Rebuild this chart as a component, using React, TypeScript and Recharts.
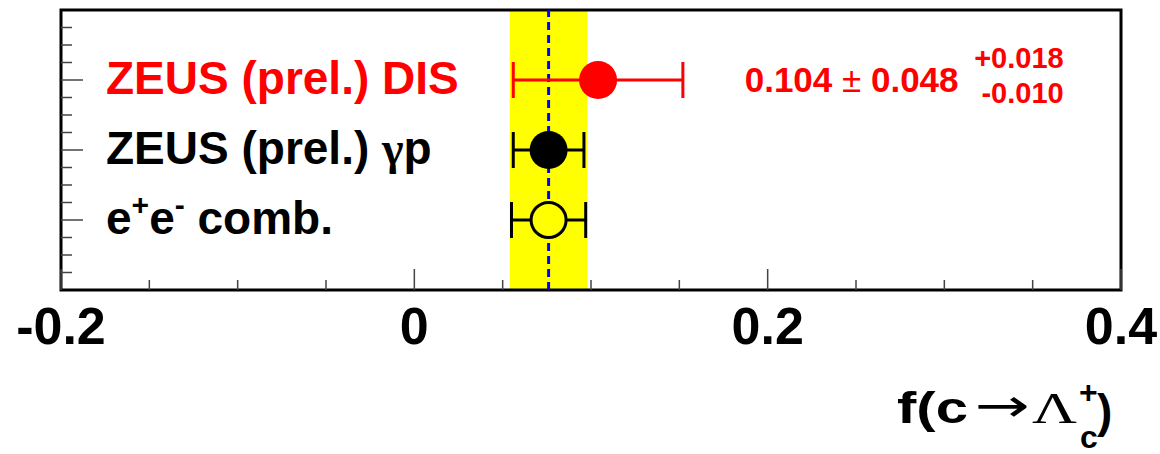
import React from 'react';
import {
  ScatterChart,
  Scatter,
  XAxis,
  YAxis,
  ErrorBar,
  ReferenceArea,
  ReferenceLine,
  ReferenceDot,
} from 'recharts';

// measurements, listed from the bottom row to the top row
const rowLabels = ['e^+e^- comb.', 'ZEUS (prel.) γp', 'ZEUS (prel.) DIS'];
const rowPositions = [1, 2, 3];
const centralValues = [0.076, 0.076, 0.104];
const statErrors = [0.021, 0.02, 0.048];
const rowColors = ['#000000', '#000000', '#ff0000'];
const markerFilled = [false, true, true];

// average band
const bandLow = 0.054;
const bandHigh = 0.098;
const bandCentre = 0.076;

// DIS result text
const disValue = '0.104';
const disStat = '0.048';
const disSystUp = '+0.018';
const disSystDown = '-0.010';
const disTextX = 0.187;

const xTicks = [-0.2, -0.15, -0.1, -0.05, 0, 0.05, 0.1, 0.15, 0.2, 0.25, 0.3, 0.35, 0.4];
const xTickLabels = ['-0.2', '', '', '', '0', '', '', '', '0.2', '', '', '', '0.4'];
const yTicks = [0.25, 0.5, 0.75, 1, 1.25, 1.5, 1.75, 2, 2.25, 2.5, 2.75, 3, 3.25, 3.5, 3.75];

const FONT = '"Liberation Sans", Arial, Helvetica, sans-serif';
const SERIF = '"Liberation Serif", "Times New Roman", serif';

// 'e^+' -> raised '+', 'γ' -> symbol font
const renderRowLabel = (label: string) => {
  const parts = label.split(/(\^.|γ)/).filter(Boolean);
  let raised = false;
  return parts.map((part, i) => {
    if (part.startsWith('^')) {
      raised = true;
      return (
        <tspan key={i} fontSize={30} dy={-19}>
          {part[1]}
        </tspan>
      );
    }
    const dy = raised ? 19 : 0;
    raised = false;
    if (part === 'γ') {
      return (
        <tspan key={i} dy={dy} fontFamily={SERIF}>
          {part}
        </tspan>
      );
    }
    return (
      <tspan key={i} dy={dy}>
        {part}
      </tspan>
    );
  });
};

const XTick = (props: any) => {
  const { x, y, index } = props;
  const label = xTickLabels[index];
  const major = label !== '';
  return (
    <g>
      <line x1={x} x2={x} y1={y} y2={y - (major ? 21 : 10)} stroke="#444" strokeWidth={1.5} />
      {major && (
        <text x={x} y={y + 54} textAnchor="middle" fontFamily={FONT} fontWeight="bold" fontSize={52} fill="#000">
          {label}
        </text>
      )}
    </g>
  );
};

const YTick = (props: any) => {
  const { x, y, payload } = props;
  const v = payload.value;
  const major = Number.isInteger(v);
  const rowIdx = rowPositions.indexOf(v);
  return (
    <g>
      <line x1={x} x2={x + (major ? 22 : 11)} y1={y} y2={y} stroke="#444" strokeWidth={1.5} />
      {rowIdx >= 0 && (
        <text x={x + 45} y={y + 14} fontFamily={FONT} fontWeight="bold" fontSize={46} fill={rowColors[rowIdx]}>
          {renderRowLabel(rowLabels[rowIdx])}
        </text>
      )}
    </g>
  );
};

const Marker = (props: any) => {
  const { cx, cy, color, filled } = props;
  if (filled) return <circle cx={cx} cy={cy} r={19} fill={color} />;
  return <circle cx={cx} cy={cy} r={17.5} fill="#ffff00" stroke={color} strokeWidth={3} />;
};

const DisText = (props: any) => {
  const { x, y } = props.viewBox;
  return (
    <g fill="#ff0000" fontFamily={FONT} fontWeight="bold">
      <text x={x} y={y + 12} fontSize={35}>
        {disValue} <tspan fontWeight="normal">±</tspan> {disStat}
      </text>
      <text x={x + 319} y={y - 12} fontSize={29} textAnchor="end">
        {disSystUp}
      </text>
      <text x={x + 319} y={y + 23} fontSize={29} textAnchor="end">
        {disSystDown}
      </text>
    </g>
  );
};

const AxisTitle = (props: any) => {
  const { x, y, width } = props.viewBox;
  const r = x + width;
  return (
    <g fill="#000" fontFamily={FONT} fontWeight="bold">
      <text x={r - 224} y={y + 133} fontSize={44} textLength={71} lengthAdjust="spacingAndGlyphs">
        f(c
      </text>
      <text x={r - 146} y={y + 131} fontSize={46} fontFamily='"DejaVu Sans", sans-serif' fontWeight="normal" textLength={55} lengthAdjust="spacingAndGlyphs">
        →
      </text>
      <text x={r - 89} y={y + 133} fontSize={44} fontFamily={SERIF} fontWeight="normal" textLength={45} lengthAdjust="spacingAndGlyphs">
        Λ
      </text>
      <text x={r - 42} y={y + 113} fontSize={32}>
        +
      </text>
      <text x={r - 41} y={y + 158} fontSize={32}>
        c
      </text>
      <text x={r - 24} y={y + 137} fontSize={46}>
        )
      </text>
    </g>
  );
};

export default function App() {
  return (
    <div style={{ position: 'absolute', left: 0, top: 0, width: 1160, height: 454, background: '#fff' }}>
      <ScatterChart width={1160} height={454} margin={{ top: 10, right: 39, bottom: 0, left: 60 }}>
        <XAxis
          type="number"
          dataKey="x"
          domain={[-0.2, 0.4]}
          ticks={xTicks}
          interval={0}
          allowDataOverflow
          axisLine={false}
          tickLine={false}
          tickSize={0}
          tickMargin={0}
          height={164}
          tick={<XTick />}
          label={(p: any) => <AxisTitle {...p} />}
        />
        <YAxis
          type="number"
          dataKey="y"
          domain={[0, 4]}
          ticks={yTicks}
          interval={0}
          allowDataOverflow
          width={1}
          axisLine={false}
          tickLine={false}
          tickSize={0}
          tickMargin={0}
          tick={<YTick />}
        />
        <ReferenceArea x1={bandLow} x2={bandHigh} y1={0} y2={4} fill="#ffff00" fillOpacity={1} stroke="none" />
        <ReferenceLine x={bandCentre} stroke="#0000ff" strokeWidth={3} strokeDasharray="8 5" />
        {rowPositions.map((pos, i) => (
          <Scatter
            key={i}
            data={[{ x: centralValues[i], y: pos, err: statErrors[i] }]}
            isAnimationActive={false}
            shape={(p: any) => <Marker {...p} color={rowColors[i]} filled={markerFilled[i]} />}
          >
            <ErrorBar dataKey="err" direction="x" width={18} stroke={rowColors[i]} strokeWidth={3} />
          </Scatter>
        ))}
        <ReferenceLine
          segment={[
            { x: bandCentre, y: rowPositions[0] - 0.24 },
            { x: bandCentre, y: rowPositions[0] + 0.24 },
          ]}
          stroke="#0000ff"
          strokeWidth={3}
          strokeDasharray="8 5"
        />
        <ReferenceDot x={disTextX} y={rowPositions[2]} r={0} fill="none" stroke="none" label={(p: any) => <DisText {...p} />} />
        <ReferenceArea x1={-0.2} x2={0.4} y1={0} y2={4} fill="none" stroke="#000" strokeWidth={3} ifOverflow="visible" />
      </ScatterChart>
    </div>
  );
}
